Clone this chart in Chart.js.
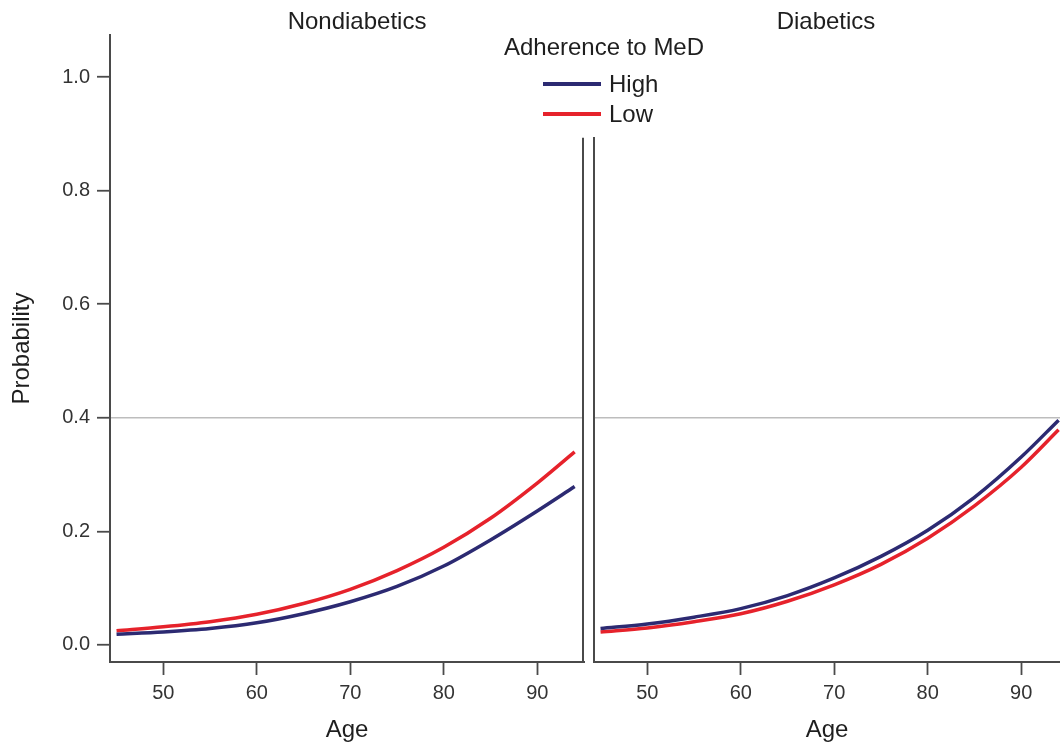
<!DOCTYPE html>
<html>
<head>
<meta charset="utf-8">
<script src="https://cdn.jsdelivr.net/npm/chart.js@4.4.1/dist/chart.umd.min.js"></script>
<style>
  html, body { margin: 0; padding: 0; background: #fff; overflow: hidden; }
  #wrap { position: relative; width: 1060px; height: 742px; font-family: "Liberation Sans", Arial, sans-serif; color: #1e1e1e; }
  #left { position: absolute; left: 0; top: 0; }
  #right { position: absolute; left: 584px; top: 0; }
  .panel-title { position: absolute; top: 7px; width: 220px; text-align: center; font-size: 24px; line-height: 28px; white-space: nowrap; }
  .lg-title { position: absolute; left: 494px; top: 33px; width: 220px; text-align: center; font-size: 24px; line-height: 28px; white-space: nowrap; }
  .lg-row { position: absolute; left: 543px; height: 28px; font-size: 24px; line-height: 28px; }
  .lg-row span.sw { position: absolute; left: 0; top: 12px; width: 58px; height: 4px; }
  .lg-row span.tx { position: absolute; left: 66px; top: 0; white-space: nowrap; }
</style>
</head>
<body>
<div id="wrap">
  <canvas id="left" width="590" height="742"></canvas>
  <canvas id="right" width="476" height="742"></canvas>
  <div class="panel-title" style="left:247px">Nondiabetics</div>
  <div class="panel-title" style="left:716px">Diabetics</div>
  <div class="lg-title">Adherence to MeD</div>
  <div id="legend"></div>
</div>
<script>
// values
const ages = [45, 50, 55, 60, 65, 70, 75, 80, 85, 90, 94];
const nonDiabHigh = [0.019, 0.023, 0.029, 0.039, 0.055, 0.076, 0.103, 0.139, 0.185, 0.236, 0.279];
const nonDiabLow  = [0.025, 0.032, 0.041, 0.054, 0.073, 0.098, 0.131, 0.172, 0.223, 0.285, 0.340];
const diabHigh    = [0.029, 0.037, 0.049, 0.064, 0.087, 0.118, 0.156, 0.202, 0.260, 0.331, 0.396];
const diabLow     = [0.023, 0.030, 0.041, 0.055, 0.077, 0.106, 0.142, 0.188, 0.245, 0.313, 0.379];
const seriesNames = ['High', 'Low'];
const seriesColors = ['#2c2a72', '#e6222b'];
const xTicks = [50, 60, 70, 80, 90];
const yTicks = [0.0, 0.2, 0.4, 0.6, 0.8, 1.0];
const refLine = 0.4;
const frameTop = 0.893;   // inner panel borders start here (legend sits above)

const axisColor = '#4a4a4a';
const font = { family: '"Liberation Sans", Arial, sans-serif' };

function pts(ys) {
    return ages.map((a, i) => ({ x: a, y: ys[i] }));
}

function makeDatasets(high, low) {
    return [high, low].map((ys, i) => ({
        label: seriesNames[i],
        data: pts(ys),
        borderColor: seriesColors[i],
        borderWidth: 3.5,
        pointRadius: 0,
        cubicInterpolationMode: 'monotone',
        fill: false
    }));
}

// draws the right-hand border of the left panel
const innerBorder = {
    id: 'innerBorder',
    afterDraw(chart) {
        const { ctx, chartArea, scales } = chart;
        ctx.save();
        ctx.strokeStyle = axisColor;
        ctx.lineWidth = 2;
        ctx.beginPath();
        ctx.moveTo(chartArea.right - 1, scales.y.getPixelForValue(frameTop));
        ctx.lineTo(chartArea.right - 1, chartArea.bottom + 1);
        ctx.stroke();
        ctx.restore();
    }
};

function gridColor(c) {
    return (c.tick && Math.abs(c.tick.value - refLine) < 1e-6) ? '#bdbdbd' : 'rgba(0,0,0,0)';
}

function xScale(max) {
    return {
        type: 'linear',
        min: 44.3,
        max: max,
        afterBuildTicks: s => { s.ticks = xTicks.map(v => ({ value: v })); },
        afterFit: s => { s.height = 80; },
        grid: { drawOnChartArea: false, drawTicks: true, tickLength: 13, tickColor: axisColor, tickWidth: 1.8 },
        border: { display: true, color: axisColor, width: 2 },
        ticks: { color: '#333', font: { ...font, size: 20 }, padding: 6, maxRotation: 0 },
        title: { display: true, text: 'Age', color: '#1e1e1e', font: { ...font, size: 24, lineHeight: 1.0 }, padding: { top: 0, bottom: 0 } }
    };
}

new Chart(document.getElementById('left'), {
    type: 'line',
    data: { datasets: makeDatasets(nonDiabHigh, nonDiabLow) },
    options: {
        responsive: false,
        animation: false,
        layout: { padding: { top: 35, right: 6 } },
        plugins: {
            legend: { display: false },
            tooltip: { enabled: false }
        },
        scales: {
            x: xScale(95.0),
            y: {
                min: -0.03,
                max: 1.074,
                afterBuildTicks: s => { s.ticks = yTicks.map(v => ({ value: v })); },
                afterFit: s => { s.width = 110; },
                grid: { color: gridColor, lineWidth: 1.5, tickColor: axisColor, tickLength: 13, tickWidth: 1.8 },
                border: { display: true, color: axisColor, width: 2 },
                ticks: { color: '#333', font: { ...font, size: 20 }, padding: 7, callback: v => v.toFixed(1) },
                title: { display: true, text: 'Probability', color: '#1e1e1e', font: { ...font, size: 24 }, padding: { top: 8, bottom: 0 } }
            }
        }
    },
    plugins: [innerBorder]
});

new Chart(document.getElementById('right'), {
    type: 'line',
    data: { datasets: makeDatasets(diabHigh, diabLow) },
    options: {
        responsive: false,
        animation: false,
        layout: { padding: { top: 138 } },
        plugins: {
            legend: { display: false },
            tooltip: { enabled: false }
        },
        scales: {
            x: xScale(94.15),
            y: {
                min: -0.03,
                max: frameTop,
                afterBuildTicks: s => { s.ticks = yTicks.filter(v => v <= frameTop).map(v => ({ value: v })); },
                afterFit: s => { s.width = 10; },
                grid: { color: gridColor, lineWidth: 1.5, drawTicks: false },
                border: { display: true, color: axisColor, width: 2 },
                ticks: { display: false }
            }
        }
    }
});

// legend built from the series names and colours
const legend = document.getElementById('legend');
seriesNames.forEach((name, i) => {
    const row = document.createElement('div');
    row.className = 'lg-row';
    row.style.top = (70 + i * 30) + 'px';
    row.innerHTML = '<span class="sw" style="background:' + seriesColors[i] + '"></span><span class="tx">' + name + '</span>';
    legend.appendChild(row);
});
</script>
</body>
</html>
